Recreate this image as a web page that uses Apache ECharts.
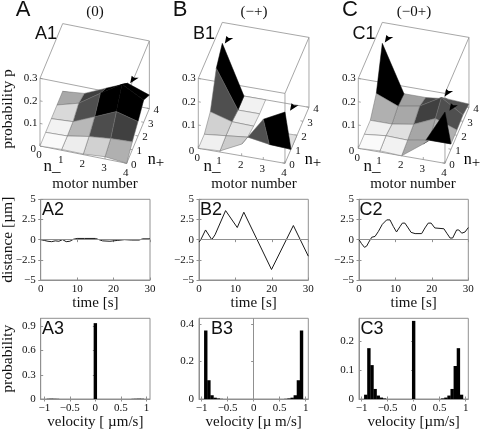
<!DOCTYPE html>
<html><head><meta charset="utf-8">
<style>html,body{margin:0;padding:0;background:#fff}#c{width:486px;height:430px}</style>
<script src="https://cdn.jsdelivr.net/npm/echarts@6/dist/echarts.min.js"></script>
</head><body><div id="c"></div>
<script>
// ---- surface heights p[n-][n+]
const surfA1=[[0,0,0,0,0],[.004,.003,.006,.027,.01],[.003,.02,.047,.09,.052],[.01,.03,.089,.149,.093],[0,.035,.064,.099,.06]];
const surfB1=[[0,0,.037,.163,.21],[.005,.01,.01,0,0],[.05,.02,.007,0,0],[.173,.005,0,0,0],[.22,0,0,0,0]];
const surfC1=[[0,0,0,.055,.21],[.005,.01,0,.017,.01],[0,.007,.015,.033,.01],[.067,.023,.056,.086,.02],[.22,.023,.023,.027,.014]];
// ---- face darkness in percent, rows are n+ cells, columns n- cells (null: not drawn)
const shadeA1=[[2,7,18,31],[5,28,70,75],[15,69,100,100],[34,75,100,100]];
const shadeB1=[[6,20,69,100],[18,11,null,12],[69,8,null,null],[100,5,null,null]];
const shadeC1=[[2,5,34,100],[6,12,35,31],[31,34,75,69],[100,37,72,67]];
// ---- arrowheads [n-, n+, p]
const arrowsA1=[[3.3,4,.117]];
const arrowsB1=[[.3,4,.231],[4,1.5,.153]];
const arrowsC1=[[.3,4,.236],[3.2,3.5,.081],[4,1.4,.159]];
// ---- tick labels
const motorTicks=[0,1,2,3,4];
const probTicks3d=[0,.1,.2,.3];
// ---- distance traces [t, d]
const distA=[[0,0],[1,-.1],[2,-.2],[3,-.25],[4,-.15],[5,-.2],[6,0],[7,-.25],[8,-.2],[9,.05],[10,.15],[12,.15],[15,.15],[16,0],[17,-.15],[19,-.2],[21,-.1],[23,0],[25,-.05],[27,-.05],[28,.1],[30,.1]];
const distB=[[0,-.3],[.5,0],[1.8,1.2],[3.5,0],[4.4,.6],[7.3,3.6],[10.5,1.5],[12.3,3.4],[19.9,-3.7],[25.9,1.75],[30,-2.05]];
const distC=[[0,0],[.7,-.5],[1.5,-.95],[2.1,-.8],[2.7,-.3],[3.5,.3],[4.4,.4],[5.3,1],[6.4,1.9],[7.6,2.45],[8.5,2.45],[9.4,1.65],[10.3,.95],[11.3,1.65],[11.9,2.05],[12.6,2.05],[13.5,1.45],[14.3,.9],[15.4,.75],[17.2,.75],[18.1,1.45],[19,2.05],[19.8,2.05],[20.8,1.45],[23.3,1.35],[24.1,.8],[25,.2],[25.7,.2],[26.8,1.2],[27.4,1.2],[28.2,.8],[29.1,.95],[30,1.5]];
const distTicks=[-5,-2.5,0,2.5,5];
const timeTicks=[0,10,20,30];
// ---- velocity histograms [v, probability]
const velA=[[-.92,.003],[-.86,.004],[-.8,.003],[-.74,.002],[0,.94],[.74,.002],[.8,.003],[.86,.004],[.92,.003]];
const velB=[[-.92,.365],[-.86,.1],[-.8,.02],[-.74,.007],[-.68,.003],[-.62,.001],[.62,.001],[.68,.003],[.74,.007],[.8,.02],[.86,.1],[.92,.365]];
const velC=[[-.92,.015],[-.86,.177],[-.8,.118],[-.74,.035],[-.68,.012],[-.62,.005],[-.56,.002],[0,.272],[.56,.002],[.62,.005],[.68,.012],[.74,.035],[.8,.115],[.86,.177],[.92,.015]];
const velTicks=[-1,-.5,0,.5,1];
const probTicksA=[0,.3,.6,.9], probTicksB=[0,.2,.4], probTicksC=[0,.1,.2];

const SERIF='"Liberation Serif"', SANS='"Liberation Sans"';
const INK='#111', BOX='#909090', EDGE='#707070';
const views=[
 {x:40,y:146,a:21.67,b:5.67,c:4.33,d:13.67,e:225.7,surf:surfA1,shade:shadeA1,arrows:arrowsA1},
 {x:198.3,y:148.3,a:21.67,b:6,c:3.75,d:14,e:233,surf:surfB1,shade:shadeB1,arrows:arrowsB1},
 {x:358.3,y:148.3,a:21.67,b:6,c:3.75,d:14,e:233,surf:surfC1,shade:shadeC1,arrows:arrowsC1}
];
const grids=[],xAxes=[],yAxes=[],series=[];
function line(a,b,stroke,w){return {type:'line',shape:{x1:a[0],y1:a[1],x2:b[0],y2:b[1]},style:{stroke:stroke,lineWidth:w||.8}};}

views.forEach((V,k)=>{
  grids.push({left:V.x,top:V.y-130,width:120,height:150,show:false,outerBoundsMode:'none'});
  xAxes.push({gridIndex:k,type:'value',min:0,max:120,show:false});
  yAxes.push({gridIndex:k,type:'value',min:-20,max:130,show:false});
  const prj=(api,i,j,p)=>api.coord([V.a*i+V.b*j,-V.c*i+V.d*j+V.e*p]);
  // box
  series.push({type:'custom',xAxisIndex:k,yAxisIndex:k,silent:true,z:1,data:[[0]],renderItem:(ps,api)=>{
    const P=(i,j,p)=>prj(api,i,j,p), T=.3, ch=[];
    [[[0,0,0],[4,0,0]],[[4,0,0],[4,4,0]],[[0,4,0],[4,4,0]],[[0,0,T],[4,0,T]],[[4,0,T],[4,4,T]],[[0,4,T],[4,4,T]],[[0,0,T],[0,4,T]],
     [[0,0,0],[0,0,T]],[[4,0,0],[4,0,T]],[[4,4,0],[4,4,T]]].forEach(e=>ch.push(line(P(...e[0]),P(...e[1]),BOX)));
    motorTicks.forEach(t=>{
      const a=P(t,0,0);ch.push(line(a,[a[0],a[1]-2.5],BOX));
      const b=P(4,t,0);ch.push(line(b,[b[0]-2.5,b[1]-.5],BOX));
    });
    probTicks3d.forEach(t=>{const a=P(0,0,t);ch.push(line(a,[a[0]+2.5,a[1]+.5],BOX));});
    return {type:'group',children:ch};
  }});
  // surface faces, back to front
  const faces=[];
  for(let j=3;j>=0;j--)for(let i=3;i>=0;i--){ if(V.shade[j][i]!==null) faces.push([i,j,V.shade[j][i]]); }
  series.push({type:'custom',xAxisIndex:k,yAxisIndex:k,silent:true,z:2,data:faces,renderItem:(ps,api)=>{
    const i=api.value(0),j=api.value(1),s=api.value(2),S=V.surf;
    const g=Math.round(255*(1-s/100));
    return {type:'polygon',shape:{points:[prj(api,i,j,S[i][j]),prj(api,i+1,j,S[i+1][j]),prj(api,i+1,j+1,S[i+1][j+1]),prj(api,i,j+1,S[i][j+1])]},
      style:{fill:`rgb(${g},${g},${g})`,stroke:s>=100?'#000':EDGE,lineWidth:.5}};
  }});
  // arrowheads
  series.push({type:'custom',xAxisIndex:k,yAxisIndex:k,silent:true,z:3,data:V.arrows,renderItem:(ps,api)=>{
    const c=prj(api,api.value(0),api.value(1),api.value(2));
    return {type:'polygon',shape:{points:[[-4,4],[-2.5,-3.5],[0,-1.5],[4.5,-1.5]].map(o=>[c[0]+o[0],c[1]+o[1]])},style:{fill:'#000'}};
  }});
  // tick labels
  const labels=[];
  motorTicks.forEach(t=>{labels.push([t,0,0,String(t),-1,9.5,'center']);labels.push([4,t,0,String(t),7,1.5,'center']);});
  probTicks3d.forEach(t=>labels.push([0,0,t,String(t),t?-2.5:-4,t?0:3,'right']));
  series.push({type:'custom',xAxisIndex:k,yAxisIndex:k,silent:true,z:3,data:labels,
    encode:{x:0,y:1},renderItem:(ps,api)=>{
    const L=labels[ps.dataIndex],c=prj(api,L[0],L[1],L[2]);
    return {type:'text',style:{text:L[3],x:c[0]+L[4],y:c[1]+L[5],align:L[6],verticalAlign:'middle',font:'11px '+SERIF,fill:INK}};
  }});
});

const axisBase=(k)=>({gridIndex:k,type:'value',nameMoveOverlap:false,
  axisLine:{show:true,onZero:false,lineStyle:{color:BOX,width:1}},
  splitLine:{show:false},nameTextStyle:{fontFamily:SERIF,fontSize:15,color:INK}});
const lbl={fontFamily:SERIF,fontSize:11,color:INK,showMinLabel:true,showMaxLabel:true};
const fmt=v=>String(v).replace('-','\u2212');
const extraAxes=[];
function panel(k,left,top,xr,yr,xt,yt,xname,yname){
  grids.push({left:left,top:top,width:109.3,height:80.7,show:true,backgroundColor:'#fff',borderColor:BOX,borderWidth:1,outerBoundsMode:'none'});
  xAxes.push(Object.assign(axisBase(k),{min:-xr[0],max:xr[1],position:'bottom',name:xname,nameLocation:'middle',nameGap:16,
    axisTick:{inside:true,length:2.5,customValues:xt,lineStyle:{color:BOX}},
    axisLabel:Object.assign({},lbl,{margin:4,customValues:xt,formatter:fmt})}));
  yAxes.push(Object.assign(axisBase(k),{min:yr[0],max:yr[1],position:'left',name:yname,nameLocation:'middle',nameGap:25,
    nameTextStyle:{fontFamily:SERIF,fontSize:15.5,color:INK},
    axisTick:{inside:true,length:2.5,customValues:yt,lineStyle:{color:BOX}},
    axisLabel:Object.assign({},lbl,{margin:5,customValues:yt,formatter:fmt})}));
  extraAxes.push({k,xr,yr,xt,yt});
}
const lefts=[40.7,199,359];
[distA,distB,distC].forEach((d,n)=>{
  const k=3+n;
  panel(k,lefts[n],199.3,[0,30],[-5,5],timeTicks,distTicks,'time [s]',n===0?'distance [\u00b5m]':'');
  series.push({type:'line',xAxisIndex:k,yAxisIndex:k,data:d,showSymbol:false,silent:true,z:3,lineStyle:{color:'#1a1a1a',width:1},
    markLine:{silent:true,symbol:'none',label:{show:false},animation:false,lineStyle:{color:BOX,width:1,type:'solid'},data:[{yAxis:0}]}});
});
const velNames=['velocity [ \u00b5m/s]','velocity [\u00b5 m/s]','velocity [\u00b5m/s]'];
[[velA,1,probTicksA,1.07],[velB,.43,probTicksB,1.05],[velC,.281,probTicksC,1.05]].forEach((r,n)=>{
  const k=6+n;
  panel(k,lefts[n],318.3,[r[3],r[3]],[0,r[1]],velTicks,r[2],velNames[n],n===0?'probability':'');
  const s={type:'bar',xAxisIndex:k,yAxisIndex:k,data:r[0],barWidth:3.4,silent:true,z:3,itemStyle:{color:'#000'}};
  if(n===1) s.markLine={silent:true,symbol:'none',label:{show:false},animation:false,lineStyle:{color:BOX,width:1,type:'solid'},data:[{xAxis:0}]};
  series.push(s);
});
// mirror ticks along the top and right frame edges
extraAxes.forEach(e=>{
  xAxes.push({gridIndex:e.k,type:'value',position:'top',min:-e.xr[0],max:e.xr[1],axisLine:{show:false},splitLine:{show:false},axisLabel:{show:false},
    axisTick:{inside:true,length:2.5,customValues:e.xt,lineStyle:{color:BOX}}});
  yAxes.push({gridIndex:e.k,type:'value',position:'right',min:e.yr[0],max:e.yr[1],axisLine:{show:false},splitLine:{show:false},axisLabel:{show:false},
    axisTick:{inside:true,length:2.5,customValues:e.yt,lineStyle:{color:BOX}}});
});

const text=(t,x,y,font,extra)=>Object.assign({type:'text',x:x,y:y,silent:true,z:20,
  style:{text:t,font:font,fill:INK,align:'center',verticalAlign:'middle'}},extra||{});
const graphic=[];
[['A',23,'(0)',95],['B',180,'(\u2212+)',254],['C',350,'(\u22120+)',414]].forEach(r=>{
  graphic.push(text(r[0],r[1],9.5,'22px '+SANS));
  graphic.push(text(r[2],r[3],12,'15px '+SERIF));
});
[['A1',46,34],['B1',204,34],['C1',364,34],['A2',53,210],['B2',211,210],['C2',371,210],['A3',53,329],['B3',222,329],['C3',372,329]]
 .forEach(r=>graphic.push(text(r[0],r[1],r[2],'18px '+SANS)));
[95,254,413].forEach(x=>graphic.push(text('motor number',x,184,'15px '+SERIF)));
[52,212,372].forEach(x=>graphic.push(text('n_',x,167,'17px '+SERIF)));
[156,313,472].forEach(x=>graphic.push({type:'text',x:x,y:160,silent:true,z:20,style:{text:'{a|n}{b|+}',align:'center',verticalAlign:'middle',
  rich:{a:{font:'16px '+SERIF,color:INK},b:{font:'15px '+SERIF,color:INK,padding:[7,0,0,0]}}}}));
graphic.push(text('probability p',8,109,'15.5px '+SERIF,{rotation:Math.PI/2}));

const chart=echarts.init(document.getElementById('c'),null,{renderer:'canvas'});
chart.setOption({animation:false,backgroundColor:'#fff',grid:grids,xAxis:xAxes,yAxis:yAxes,series:series,graphic:graphic});
</script></body></html>
